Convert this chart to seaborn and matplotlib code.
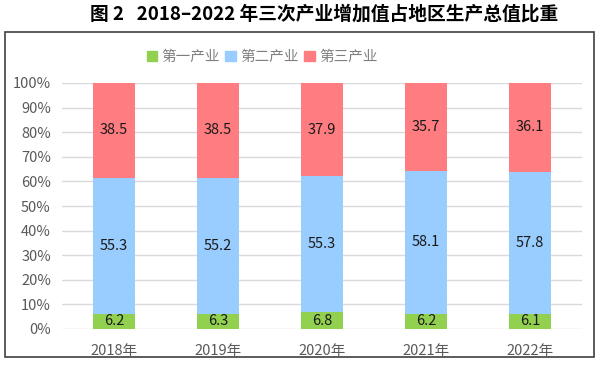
import matplotlib
matplotlib.use("Agg")
import matplotlib.pyplot as plt
import matplotlib.patches as mpatches
import seaborn as sns
import pandas as pd
import numpy as np

years = ["2018年", "2019年", "2020年", "2021年", "2022年"]
primary = [6.2, 6.3, 6.8, 6.2, 6.1]
secondary = [55.3, 55.2, 55.3, 58.1, 57.8]
tertiary = [38.5, 38.5, 37.9, 35.7, 36.1]
series_names = ["第一产业", "第二产业", "第三产业"]
colors = ["#92D050", "#99CCFF", "#FF7C80"]
yticks = [0, 10, 20, 30, 40, 50, 60, 70, 80, 90, 100]

sns.set_theme(style="white")
plt.rcParams['font.family'] = ['Noto Sans CJK SC', 'DejaVu Sans']

fig = plt.figure(figsize=(5.99, 3.74), dpi=100)
ax = fig.add_axes([62/599, 45/374, 520/599, 246/374])

df = pd.DataFrame({"year": years, "p": primary, "s": secondary, "t": tertiary})
df["c1"] = df["p"]
df["c2"] = df["p"] + df["s"]
df["c3"] = df["p"] + df["s"] + df["t"]

for col, colr in zip(["c3", "c2", "c1"], colors[::-1]):
    sns.barplot(data=df, x="year", y=col, color=colr, width=0.4, ax=ax,
                saturation=1, zorder=3, linewidth=0)

for i in range(len(years)):
    bottoms = [0, primary[i], primary[i] + secondary[i]]
    vals = [primary[i], secondary[i], tertiary[i]]
    for b, v in zip(bottoms, vals):
        ax.text(i, b + v / 2, f"{v:.1f}", ha="center", va="center",
                fontsize=10.5, color="#1a1a1a", zorder=5)

ax.set_ylim(0, 100)
ax.set_xlim(-0.5, 4.5)
ax.set_yticks(yticks)
ax.set_yticklabels([f"{t}%" for t in yticks])
ax.yaxis.grid(True, color="#D9D9D9", linewidth=1, zorder=0)
ax.set_axisbelow(True)
for sp in ax.spines.values():
    sp.set_visible(False)
ax.tick_params(axis="both", length=0, colors="#595959", labelsize=10.5)
ax.tick_params(axis="x", pad=11)
ax.tick_params(axis="y", pad=8)
ax.set_xlabel("")
ax.set_ylabel("")

handles = [mpatches.Patch(color=c, label=n) for c, n in zip(colors, series_names)]
leg = fig.legend(handles=handles, loc="center", bbox_to_anchor=(262/599, 1 - 57/374),
                 ncol=3, frameon=False, fontsize=10.5, handlelength=0.7, handleheight=0.7,
                 handletextpad=0.3, columnspacing=0.4)
for t in leg.get_texts():
    t.set_color("#7F7F7F")

frame = mpatches.Rectangle((5/599, 1 - 357/374), 589/599, 325/374, transform=fig.transFigure,
                           fill=False, edgecolor="#404040", linewidth=1.2)
fig.patches.append(frame)

fig.text(324/599, 1 - 14/374, "图 2   2018–2022 年三次产业增加值占地区生产总值比重",
         ha="center", va="center", fontsize=13.5, fontweight="bold", color="#000000")

fig.savefig("out.png", dpi=100)
